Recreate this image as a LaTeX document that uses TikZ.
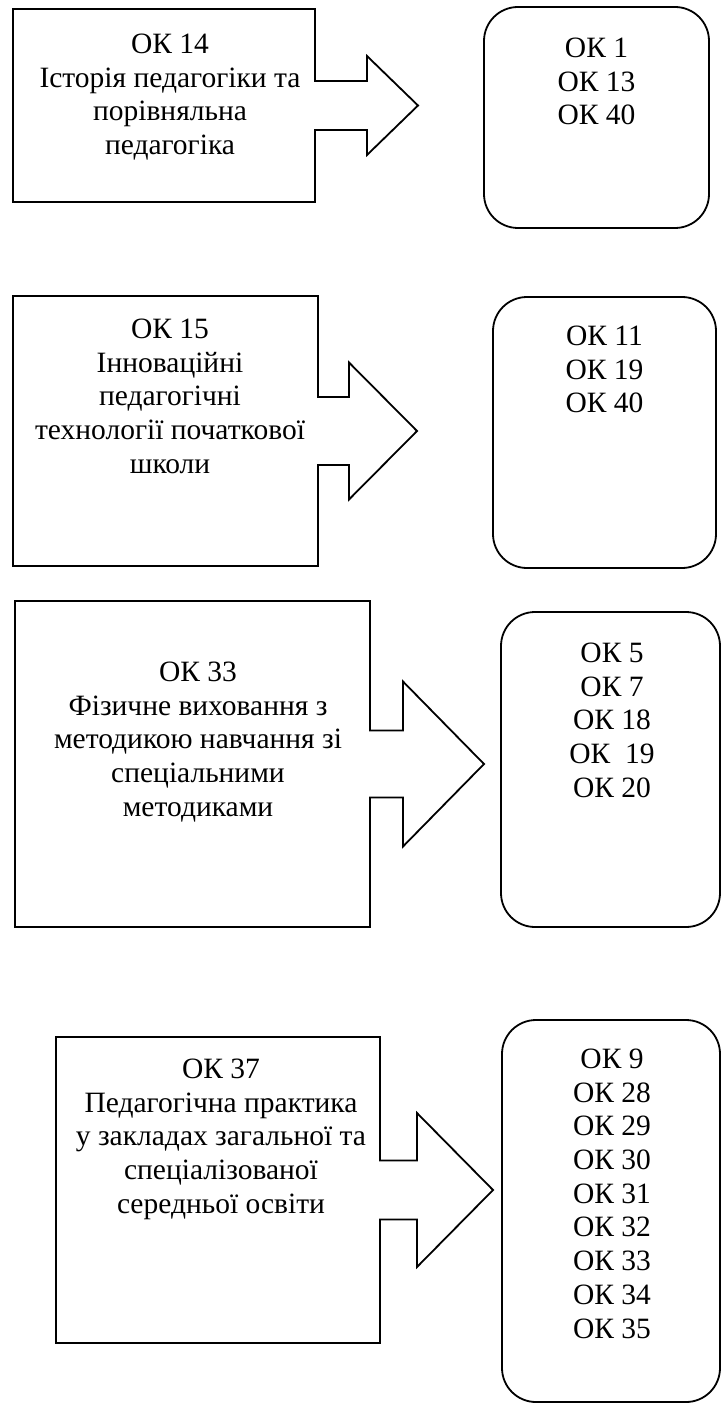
\documentclass[tikz,border=0pt]{standalone}
\usepackage{fontspec}
\setmainfont{Liberation Serif}
\begin{document}
\begin{tikzpicture}[x=1pt,y=-1pt,line width=1.8pt,
    subj/.style={draw,rectangle,outer sep=0pt},
    okbox/.style={draw,rectangle,rounded corners=34pt,outer sep=0pt},
    txt/.style={anchor=north,align=center,inner sep=0pt,font=\fontsize{29.5}{33.7}\selectfont}]
        \useasboundingbox (0,0) rectangle (722,1404);
        %% first row
        \node[subj,minimum width=302pt,minimum height=193pt] (b1) at (164,105.5) {};
        \node[okbox,minimum width=225pt,minimum height=221pt] (r1) at (596.5,117.5) {};
        \draw[fill=white] ([xshift=-1pt,yshift=24.5pt]b1.east) -- ++(53,0) -- ++(0,-25) -- ++(51,49.5) -- ++(-51,49.5) -- ++(0,-25) -- ++(-53,0);
        \node[txt] (l1) at ([xshift=6pt,yshift=-24pt]b1.north) {ОК 14\\Історія педагогіки та\\порівняльна\\педагогіка};
        \node[txt] (k1) at ([yshift=-30pt]r1.north) {ОК 1\\ОК 13\\ОК 40};
        %% second row
        \node[subj,minimum width=305pt,minimum height=270pt] (b2) at (165.5,431) {};
        \node[okbox,minimum width=223pt,minimum height=271pt] (r2) at (604.5,432.5) {};
        \draw[fill=white] ([xshift=-1pt,yshift=34pt]b2.east) -- ++(32,0) -- ++(0,-34.5) -- ++(68,68.5) -- ++(-68,68.5) -- ++(0,-34.5) -- ++(-32,0);
        \node[txt] (l2) at ([xshift=4.5pt,yshift=-22pt]b2.north) {ОК 15\\Інноваційні\\педагогічні\\технології початкової\\школи};
        \node[txt] (k2) at ([yshift=-28pt]r2.north) {ОК 11\\ОК 19\\ОК 40};
        %% third row
        \node[subj,minimum width=355pt,minimum height=326pt] (b3) at (192.5,764) {};
        \node[okbox,minimum width=219pt,minimum height=315pt] (r3) at (610.5,769.5) {};
        \draw[fill=white] ([xshift=-1pt,yshift=33.5pt]b3.east) -- ++(34,0) -- ++(0,-49) -- ++(81,82.5) -- ++(-81,82.5) -- ++(0,-49) -- ++(-34,0);
        \node[txt] (l3) at ([xshift=5.5pt,yshift=-60pt]b3.north) {ОК 33\\Фізичне виховання з\\методикою навчання зі\\спеціальними\\методиками};
        \node[txt] (k3) at ([xshift=1.5pt,yshift=-30pt]r3.north) {ОК 5\\ОК 7\\ОК 18\\ОК\ \ 19\\ОК 20};
        %% fourth row
        \node[subj,minimum width=324pt,minimum height=306pt] (b4) at (218,1190) {};
        \node[okbox,minimum width=218pt,minimum height=382pt] (r4) at (611,1211) {};
        \draw[fill=white] ([xshift=-1pt,yshift=29.5pt]b4.east) -- ++(38,0) -- ++(0,-47.5) -- ++(76,77) -- ++(-76,77) -- ++(0,-47.5) -- ++(-38,0);
        \node[txt] (l4) at ([xshift=3pt,yshift=-21pt]b4.north) {ОК 37\\Педагогічна практика\\у закладах загальної та\\спеціалізованої\\середньої освіти};
        \node[txt] (k4) at ([xshift=1pt,yshift=-28pt]r4.north) {ОК 9\\ОК 28\\ОК 29\\ОК 30\\ОК 31\\ОК 32\\ОК 33\\ОК 34\\ОК 35};
\end{tikzpicture}
\end{document}
